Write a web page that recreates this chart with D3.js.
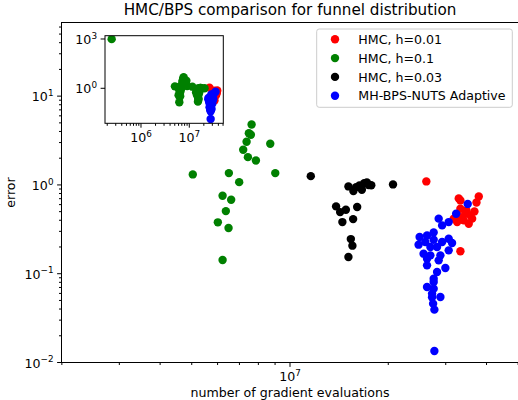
<!DOCTYPE html>
<html><head><meta charset="utf-8">
<script src="https://cdn.jsdelivr.net/npm/d3@7"></script>
<style>body{margin:0;background:#fff}svg{display:block;font-family:"DejaVu Sans",sans-serif}</style>
</head><body><svg id="c" width="518" height="400"></svg>
<script>
// ---- data ----
const seriesNames = ["HMC, h=0.01", "HMC, h=0.1", "HMC, h=0.03", "MH-BPS-NUTS Adaptive"];
const seriesColors = ["#ff0000", "#008000", "#000000", "#0000ff"];
const insetColors = ["#ff0000", "#008000", "#008000", "#0000ff"];

const hmc001X = [2.616e7, 3.288e7, 3.327e7, 3.787e7, 3.726e7, 3.327e7, 3.447e7, 3.571e7, 3.614e7, 3.406e7, 3.528e7, 3.251e7, 3.327e7, 3.173e7, 3.327e7, 3.471e7, 3.673e7];
const hmc001Y = [1.095, 0.705, 0.669, 0.742, 0.635, 0.540, 0.474, 0.454, 0.417, 0.399, 0.366, 0.382, 0.434, 0.417, 0.179, 0.516, 0.503];

const hmc01X = [7.626e6, 7.481e6, 7.588e6, 7.362e6, 8.699e6, 7.188e6, 7.430e6, 7.863e6, 5.037e6, 6.497e6, 9.013e6, 6.987e6, 6.215e6, 6.603e6, 6.360e6, 6.011e6, 6.482e6, 6.215e6, 2.47e5];
const hmc01Y = [4.795, 3.827, 3.672, 3.063, 2.908, 2.489, 2.055, 1.887, 1.313, 1.358, 1.358, 1.075, 0.756, 0.682, 0.507, 0.379, 0.327, 0.1425, 980];

const hmc003X = [1.158e7, 1.510e7, 1.564e7, 1.594e7, 1.632e7, 1.660e7, 1.688e7, 1.720e7, 1.740e7, 1.774e7, 2.068e7, 1.384e7, 1.424e7, 1.483e7, 1.606e7, 1.447e7, 1.561e7, 1.536e7, 1.553e7, 1.510e7];
const hmc003Y = [1.256, 0.962, 0.852, 0.944, 0.987, 0.883, 1.048, 1.067, 0.998, 0.990, 1.013, 0.573, 0.494, 0.526, 0.563, 0.3815, 0.412, 0.2455, 0.207, 0.154];

const bpsX = [3.503e7, 3.228e7, 2.854e7, 3.063e7, 2.924e7, 2.755e7, 2.495e7, 2.629e7, 2.597e7, 2.477e7, 2.755e7, 2.924e7, 3.063e7, 3.137e7, 2.692e7, 2.822e7, 3.063e7, 2.566e7, 2.692e7, 2.889e7, 2.629e7, 2.854e7, 2.629e7, 2.992e7, 2.822e7, 2.755e7, 2.755e7, 2.629e7, 2.755e7, 2.724e7, 2.889e7, 2.724e7, 2.744e7, 2.769e7, 2.769e7];
const bpsY = [0.611, 0.474, 0.417, 0.3815, 0.350, 0.292, 0.2587, 0.270, 0.2272, 0.2124, 0.2416, 0.2272, 0.248, 0.2214, 0.1996, 0.1996, 0.1832, 0.1682, 0.1609, 0.1609, 0.1477, 0.1414, 0.1242, 0.1158, 0.1044, 0.0880, 0.0806, 0.0708, 0.0679, 0.0597, 0.0546, 0.0542, 0.0460, 0.0394, 0.01349];

const mainXTicks = [1e7];
const mainYTicks = [0.01, 0.1, 1, 10];
const insetXTicks = [1e6, 1e7];
const insetYTicks = [1, 1000];

const titleText = "HMC/BPS comparison for funnel distribution";
const xLabelText = "number of gradient evaluations";
const yLabelText = "error";

// ---- build ----
const seriesData = [
  {xs: hmc001X, ys: hmc001Y},
  {xs: hmc01X, ys: hmc01Y},
  {xs: hmc003X, ys: hmc003Y},
  {xs: bpsX, ys: bpsY}
];

const svg = d3.select("#c");
const FS = 12.6, R = 4.2;

function expOf(v){ return Math.round(Math.log10(v)); }
function powLabel(sel, v){
  const e = expOf(v);
  sel.append("tspan").text("10");
  sel.append("tspan").attr("dy", -0.42*FS).attr("font-size", 0.7*FS).text(e < 0 ? "\u2212" + (-e) : String(e));
}
function minorTicks(domain){
  const out = [];
  const lo = Math.floor(Math.log10(domain[0])), hi = Math.ceil(Math.log10(domain[1]));
  for (let d = lo; d <= hi; d++) for (let k = 2; k <= 9; k++) {
    const v = k * Math.pow(10, d);
    if (v >= domain[0] && v <= domain[1]) out.push(v);
  }
  return out;
}

function drawAxes(g, x, y, colors, xMajor, yMajor, xMinor, yMinor, clipId){
  const [x0, x1] = x.range(), [y0, y1] = y.range();
  g.append("clipPath").attr("id", clipId).append("rect")
    .attr("x", x0).attr("y", y1).attr("width", x1 - x0).attr("height", y0 - y1);
  g.append("rect").attr("x", x0).attr("y", y1).attr("width", x1 - x0).attr("height", y0 - y1).attr("fill", "#fff");
  const pts = g.append("g").attr("clip-path", `url(#${clipId})`);
  seriesData.forEach((s, si) => {
    pts.selectAll(null).data(s.xs.map((v, i) => [v, s.ys[i]])).enter().append("circle")
      .attr("cx", d => x(d[0])).attr("cy", d => y(d[1])).attr("r", R).attr("fill", colors[si]);
  });
  const tk = g.append("g").attr("stroke", "#000").attr("stroke-width", 1);
  xMinor.forEach(v => tk.append("line").attr("x1", x(v)).attr("x2", x(v)).attr("y1", y0).attr("y2", y0 + 2.5));
  xMajor.forEach(v => tk.append("line").attr("x1", x(v)).attr("x2", x(v)).attr("y1", y0).attr("y2", y0 + 4.4));
  yMinor.forEach(v => tk.append("line").attr("y1", y(v)).attr("y2", y(v)).attr("x1", x0).attr("x2", x0 - 2.5));
  yMajor.forEach(v => tk.append("line").attr("y1", y(v)).attr("y2", y(v)).attr("x1", x0).attr("x2", x0 - 4.4));
  xMajor.forEach(v => {
    const t = g.append("text").attr("x", x(v)).attr("y", y0 + 18.8).attr("text-anchor", "middle").attr("font-size", FS);
    powLabel(t, v);
  });
  yMajor.forEach(v => {
    const t = g.append("text").attr("x", x0 - 8).attr("y", y(v) + 5).attr("text-anchor", "end").attr("font-size", FS);
    powLabel(t, v);
  });
  g.append("rect").attr("x", x0).attr("y", y1).attr("width", x1 - x0).attr("height", y0 - y1)
    .attr("fill", "none").attr("stroke", "#000").attr("stroke-width", 1);
}

// main axes
const mx = d3.scaleLog().domain([1.995e6, 5.012e7]).range([61.5, 518.5]);
const my = d3.scaleLog().domain([0.01, 67.5]).range([362.5, 22.5]);
drawAxes(svg.append("g"), mx, my, seriesColors, mainXTicks, mainYTicks,
  minorTicks(mx.domain()).filter(v => !mainXTicks.includes(v)),
  minorTicks(my.domain()).filter(v => !mainYTicks.includes(v)), "clipMain");

// title & labels
svg.append("text").attr("x", 290).attr("y", 14.7).attr("text-anchor", "middle").attr("font-size", 15.2).text(titleText);
svg.append("text").attr("x", 290).attr("y", 397.3).attr("text-anchor", "middle").attr("font-size", FS).text(xLabelText);
svg.append("text").attr("transform", "translate(14.5,192.5) rotate(-90)").attr("text-anchor", "middle").attr("font-size", FS).text(yLabelText);

// legend
const lg = svg.append("g");
lg.append("rect").attr("x", 316.7).attr("y", 29).attr("width", 195.6).attr("height", 78.3).attr("rx", 2.5)
  .attr("fill", "#fff").attr("fill-opacity", 0.8).attr("stroke", "#cccccc").attr("stroke-width", 1);
seriesNames.forEach((name, i) => {
  const cy = 39.3 + i * 18.8;
  lg.append("circle").attr("cx", 335).attr("cy", cy).attr("r", R).attr("fill", seriesColors[i]);
  lg.append("text").attr("x", 358.3).attr("y", cy + 4.7).attr("font-size", FS).text(name);
});

// inset axes
const ix = d3.scaleLog().domain([1.798e5, 5.06e7]).range([105, 223.3]);
const iy = d3.scaleLog().domain([0.00741, 1585]).range([123.3, 35.7]);
drawAxes(svg.append("g"), ix, iy, insetColors, insetXTicks, insetYTicks,
  minorTicks(ix.domain()).filter(v => !insetXTicks.includes(v)), [], "clipInset");
</script></body></html>
